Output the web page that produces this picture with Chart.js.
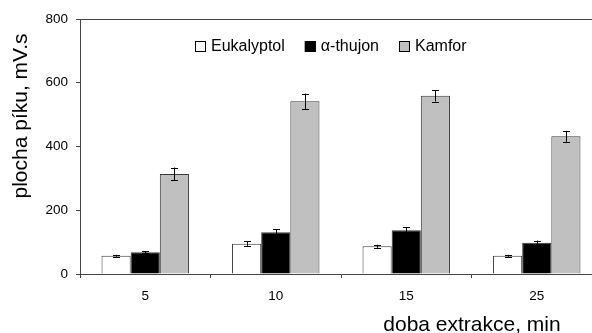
<!DOCTYPE html>
<html>
<head>
<meta charset="utf-8">
<script src="https://cdn.jsdelivr.net/npm/chart.js@4.4.1/dist/chart.umd.min.js"></script>
<style>
html,body{margin:0;padding:0;background:#fff;overflow:hidden;}
#wrap{width:592px;height:333px;overflow:hidden;position:relative;}
canvas{display:block;}
</style>
</head>
<body>
<div id="wrap"><canvas id="c" width="610" height="333"></canvas></div>
<script>
const categories = ['5', '10', '15', '25'];
const seriesNames = ['Eukalyptol', 'α-thujon', 'Kamfor'];
const eukalyptol = [57, 95, 87, 57];
const thujon = [68, 131, 137, 98];
const kamfor = [314, 542, 559, 432];
const errEukalyptol = [3, 7, 5, 3];
const errThujon = [3, 9, 9, 7];
const errKamfor = [20, 24, 18, 17];
const yTicks = [0, 200, 400, 600, 800];
const xTitle = 'doba extrakce, min';
const yTitle = 'plocha píku, mV.s';

const FONT = '"Liberation Sans", Arial, sans-serif';
const AXIS = '#444444';

const errorBars = {
  id: 'errorBars',
  afterDatasetsDraw(chart) {
    const ctx = chart.ctx;
    const y = chart.scales.y;
    ctx.save();
    ctx.strokeStyle = '#000';
    ctx.lineWidth = 1;
    chart.data.datasets.forEach((ds, di) => {
      const meta = chart.getDatasetMeta(di);
      meta.data.forEach((bar, i) => {
        const v = ds.data[i], e = ds.errors[i];
        const x = Math.round(bar.x) + 0.5;
        const yt = y.getPixelForValue(v + e);
        const yb = y.getPixelForValue(v - e);
        ctx.beginPath();
        ctx.moveTo(x, yt); ctx.lineTo(x, yb);
        ctx.moveTo(x - 3.5, Math.round(yt) + 0.5); ctx.lineTo(x + 3.5, Math.round(yt) + 0.5);
        ctx.moveTo(x - 3.5, Math.round(yb) + 0.5); ctx.lineTo(x + 3.5, Math.round(yb) + 0.5);
        ctx.stroke();
      });
    });
    ctx.restore();
  }
};

const extras = {
  id: 'extras',
  afterDraw(chart) {
    const ctx = chart.ctx;
    const a = chart.chartArea;
    ctx.save();
    // top frame line
    ctx.strokeStyle = AXIS;
    ctx.lineWidth = 1;
    ctx.beginPath();
    ctx.moveTo(a.left, Math.round(a.top) + 0.5);
    ctx.lineTo(a.right, Math.round(a.top) + 0.5);
    ctx.stroke();
    // axis titles
    ctx.fillStyle = '#000';
    ctx.font = '21px ' + FONT;
    ctx.textAlign = 'center';
    ctx.textBaseline = 'alphabetic';
    ctx.fillText(xTitle, 472, 331);
    ctx.save();
    ctx.translate(27, 116);
    ctx.rotate(-Math.PI / 2);
    ctx.fillText(yTitle, 0, 0);
    ctx.restore();
    // legend inside plot
    ctx.font = '16px ' + FONT;
    ctx.textAlign = 'left';
    ctx.textBaseline = 'middle';
    let x = 195;
    const yc = 46;
    chart.data.datasets.forEach(ds => {
      ctx.fillStyle = ds.backgroundColor;
      ctx.fillRect(x, yc - 5, 11, 11);
      ctx.strokeStyle = '#000';
      ctx.strokeRect(x + 0.5, yc - 5 + 0.5, 10, 10);
      ctx.fillStyle = '#000';
      const tx = x + 16;
      ctx.fillText(ds.label, tx, yc + 1);
      x = tx + ctx.measureText(ds.label).width + 20;
    });
    ctx.restore();
  }
};

const colors = ['#ffffff', '#000000', '#c0c0c0'];
const values = [eukalyptol, thujon, kamfor];
const errs = [errEukalyptol, errThujon, errKamfor];

new Chart(document.getElementById('c'), {
  type: 'bar',
  data: {
    labels: categories,
    datasets: seriesNames.map((n, i) => ({
      label: n,
      data: values[i],
      errors: errs[i],
      backgroundColor: colors[i],
      borderColor: '#3a3a3a',
      borderWidth: 1,
      categoryPercentage: 0.67,
      barPercentage: 1.0
    }))
  },
  options: {
    responsive: false,
    animation: false,
    layout: { padding: { left: 0, top: 19, right: 8, bottom: 0 } },
    plugins: { legend: { display: false }, tooltip: { enabled: false } },
    scales: {
      x: {
        offset: true,
        grid: { display: true, offset: true, drawOnChartArea: false, tickLength: 4, color: AXIS },
        border: { display: true, color: AXIS, width: 1 },
        ticks: { color: '#000', font: { family: FONT, size: 13.5 }, padding: 10 },
        afterFit(s) { s.height = 59; }
      },
      y: {
        min: 0, max: 800,
        afterBuildTicks(s) { s.ticks = yTicks.map(v => ({ value: v })); },
        grid: { display: true, drawOnChartArea: false, tickLength: 4, color: AXIS },
        border: { display: true, color: AXIS, width: 1 },
        ticks: { color: '#000', font: { family: FONT, size: 13.5 }, padding: 8 },
        afterFit(s) { s.width = 80; }
      }
    }
  },
  plugins: [errorBars, extras]
});
</script>
</body>
</html>
